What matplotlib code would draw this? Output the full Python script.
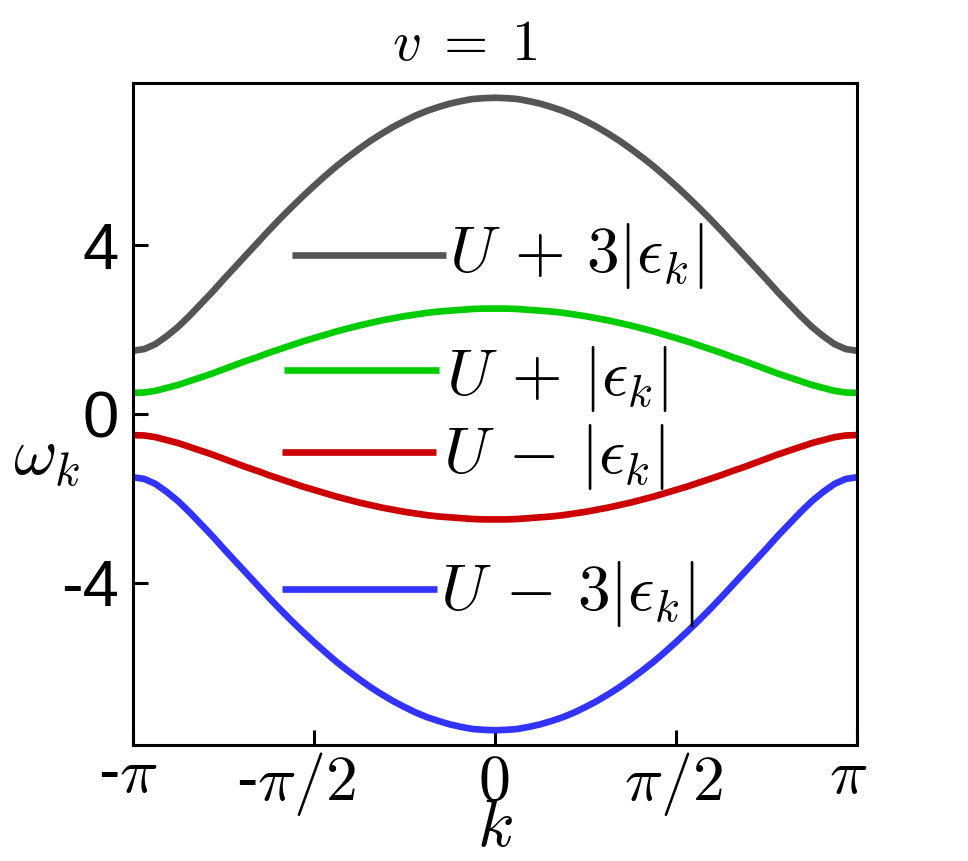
import numpy as np
import matplotlib
matplotlib.use("Agg")
import matplotlib.pyplot as plt

plt.rcParams['mathtext.fontset'] = 'cm'
plt.rcParams['font.family'] = ['Liberation Sans', 'DejaVu Sans']

# ---- data ----
k = np.linspace(-np.pi, np.pi, 65)
gray_vals = [1.50, 1.54, 1.66, 1.85, 2.07, 2.33, 2.61, 2.89, 3.19, 3.48, 3.77, 4.06, 4.35, 4.63, 4.90, 5.16,
             5.41, 5.65, 5.88, 6.09, 6.29, 6.48, 6.65, 6.81, 6.95, 7.08, 7.19, 7.28, 7.36, 7.42, 7.47, 7.49,
             7.50,
             7.49, 7.47, 7.42, 7.36, 7.28, 7.19, 7.08, 6.95, 6.81, 6.65, 6.48, 6.29, 6.09, 5.88, 5.65,
             5.41, 5.16, 4.90, 4.63, 4.35, 4.06, 3.77, 3.48, 3.19, 2.89, 2.61, 2.33, 2.07, 1.85, 1.66, 1.54, 1.50]
green_vals = [0.50, 0.51, 0.55, 0.62, 0.69, 0.78, 0.87, 0.96, 1.06, 1.16, 1.26, 1.35, 1.45, 1.54, 1.63, 1.72,
              1.80, 1.88, 1.96, 2.03, 2.10, 2.16, 2.22, 2.27, 2.32, 2.36, 2.40, 2.43, 2.45, 2.47, 2.49, 2.50,
              2.50,
              2.50, 2.49, 2.47, 2.45, 2.43, 2.40, 2.36, 2.32, 2.27, 2.22, 2.16, 2.10, 2.03, 1.96, 1.88,
              1.80, 1.72, 1.63, 1.54, 1.45, 1.35, 1.26, 1.16, 1.06, 0.96, 0.87, 0.78, 0.69, 0.62, 0.55, 0.51, 0.50]
red_vals = [-0.50, -0.51, -0.55, -0.62, -0.69, -0.78, -0.87, -0.96, -1.06, -1.16, -1.26, -1.35, -1.45, -1.54, -1.63, -1.72,
            -1.80, -1.88, -1.96, -2.03, -2.10, -2.16, -2.22, -2.27, -2.32, -2.36, -2.40, -2.43, -2.45, -2.47, -2.49, -2.50,
            -2.50,
            -2.50, -2.49, -2.47, -2.45, -2.43, -2.40, -2.36, -2.32, -2.27, -2.22, -2.16, -2.10, -2.03, -1.96, -1.88,
            -1.80, -1.72, -1.63, -1.54, -1.45, -1.35, -1.26, -1.16, -1.06, -0.96, -0.87, -0.78, -0.69, -0.62, -0.55, -0.51, -0.50]
blue_vals = [-1.50, -1.54, -1.66, -1.85, -2.07, -2.33, -2.61, -2.89, -3.19, -3.48, -3.77, -4.06, -4.35, -4.63, -4.90, -5.16,
             -5.41, -5.65, -5.88, -6.09, -6.29, -6.48, -6.65, -6.81, -6.95, -7.08, -7.19, -7.28, -7.36, -7.42, -7.47, -7.49,
             -7.50,
             -7.49, -7.47, -7.42, -7.36, -7.28, -7.19, -7.08, -6.95, -6.81, -6.65, -6.48, -6.29, -6.09, -5.88, -5.65,
             -5.41, -5.16, -4.90, -4.63, -4.35, -4.06, -3.77, -3.48, -3.19, -2.89, -2.61, -2.33, -2.07, -1.85, -1.66, -1.54, -1.50]

labels = [r'$U\,+\,3|\epsilon_k|$', r'$U\,+\,|\epsilon_k|$', r'$U\,-\,|\epsilon_k|$', r'$U\,-\,3|\epsilon_k|$']
colors = ['#555555', '#00cc00', '#cc0000', '#3333ff']
series = [gray_vals, green_vals, red_vals, blue_vals]

xtick_pos = [-np.pi, -np.pi / 2, 0, np.pi / 2, np.pi]
xtick_labels = [r'-$\pi$', r'-$\pi/2$', r'$0$', r'$\pi/2$', r'$\pi$']
ytick_pos = [-4, 0, 4]
ytick_labels = ['-4', '0', '4']

# ---- figure ----
W, H = 968, 861
fig = plt.figure(figsize=(W / 100, H / 100), dpi=100)
L, R, T, B = 133, 857, 83, 745
ax = fig.add_axes([L / W, 1 - B / H, (R - L) / W, (B - T) / H])

for vals, c in zip(series, colors):
    ax.plot(k, vals, color=c, lw=4.8, solid_capstyle='butt')

ax.set_xlim(-np.pi, np.pi)
ax.set_ylim(-7.85, 7.85)
ax.tick_params(direction='in', length=11, width=2.2, top=False, right=False,
               labelsize=47, labelfontfamily='Liberation Sans')
ax.tick_params(axis='y', pad=10)
ax.set_xticks(xtick_pos)
ax.set_xticklabels([''] * len(xtick_pos))
ax.set_yticks(ytick_pos)
ax.set_yticklabels(ytick_labels)
for s in ax.spines.values():
    s.set_linewidth(2.2)


def ax_x(px):
    return (px - L) / (R - L)


def ax_y(py):
    return (B - py) / (B - T)


# x tick labels (hyphen in sans, math part in Computer Modern)
xlab_center_px = [128, 296, 494, 673, 848]
xlab_base_px = [792, 800, 800, 800, 793]
for lab, cx, by in zip(xtick_labels, xlab_center_px, xlab_base_px):
    ax.text(ax_x(cx), ax_y(by), lab, transform=ax.transAxes, fontsize=46,
            ha='center', va='baseline', fontfamily='Liberation Sans',
            math_fontfamily='cm', clip_on=False)

# legend-like entries
leg = [  # line x0, x1, line y, text x, text baseline (pixels)
    (292, 446, 255, 449, 272),
    (284, 439, 370, 446, 395),
    (282, 436, 452, 443, 473),
    (282, 437, 589, 440, 610),
]
for (x0, x1, ly, tx, tb), lab, c in zip(leg, labels, colors):
    ax.plot([ax_x(x0), ax_x(x1)], [ax_y(ly), ax_y(ly)], color=c, lw=4.8,
            transform=ax.transAxes, solid_capstyle='butt', clip_on=False)
    ax.text(ax_x(tx), ax_y(tb), lab, transform=ax.transAxes, fontsize=47,
            ha='left', va='baseline', math_fontfamily='cm')

fig.text(465 / W, 1 - 60 / H, r'$v\;=\;1$', fontsize=41, ha='center', va='baseline', math_fontfamily='cm')
fig.text(47 / W, 1 - 458 / H, r'$\omega_k$', fontsize=48, ha='center', va='center', math_fontfamily='cm')
fig.text(495 / W, 1 - 829 / H, r'$k$', fontsize=48, ha='center', va='center', math_fontfamily='cm')

fig.savefig('out.png', dpi=100)
